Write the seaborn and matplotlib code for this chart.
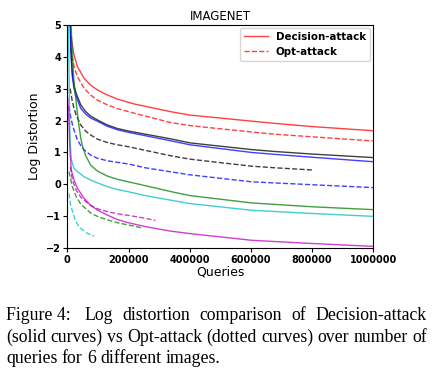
import numpy as np
import pandas as pd
import matplotlib
matplotlib.use("Agg")
import matplotlib.pyplot as plt
import seaborn as sns
from matplotlib.lines import Line2D

# values (queries vs log distortion)
red_dec_q = [13000, 16000, 22000, 33000, 55000, 76000, 98000, 131000, 164000, 200000, 218000, 336000, 401000, 603000, 679000, 801000, 1000000]
red_dec_d = [4.62, 4.40, 4.05, 3.69, 3.32, 3.11, 2.96, 2.80, 2.67, 2.57, 2.52, 2.28, 2.17, 1.98, 1.91, 1.81, 1.68]
red_opt_q = [12000, 16000, 22000, 33000, 55000, 76000, 98000, 131000, 164000, 200000, 218000, 336000, 401000, 603000, 679000, 801000, 1000000]
red_opt_d = [4.25, 3.98, 3.69, 3.37, 3.01, 2.80, 2.64, 2.49, 2.37, 2.28, 2.23, 1.94, 1.84, 1.64, 1.57, 1.49, 1.36]

blk_dec_q = [9000, 11000, 13500, 16500, 22000, 29000, 44000, 60000, 76000, 98000, 131000, 164000, 200000, 336000, 401000, 603000, 679000, 801000, 1000000]
blk_dec_d = [5.6, 4.52, 3.95, 3.48, 3.10, 2.85, 2.49, 2.28, 2.14, 2.02, 1.86, 1.75, 1.67, 1.43, 1.30, 1.09, 1.03, 0.95, 0.84]
blk_opt_q = [9000, 12000, 16500, 22000, 29000, 44000, 60000, 76000, 98000, 131000, 164000, 200000, 336000, 401000, 603000, 679000, 805000]
blk_opt_d = [3.0, 2.85, 2.59, 2.38, 2.17, 1.86, 1.67, 1.55, 1.42, 1.31, 1.24, 1.18, 0.90, 0.79, 0.57, 0.52, 0.45]

blu_dec_q = [8500, 11000, 13500, 16500, 22000, 29000, 44000, 60000, 76000, 98000, 131000, 164000, 200000, 336000, 401000, 603000, 679000, 801000, 1000000]
blu_dec_d = [5.6, 4.40, 3.85, 3.37, 3.00, 2.75, 2.38, 2.20, 2.08, 1.98, 1.82, 1.71, 1.63, 1.37, 1.24, 1.00, 0.94, 0.85, 0.71]
blu_opt_q = [5000, 11000, 16500, 22000, 33000, 44000, 55000, 76000, 98000, 131000, 164000, 200000, 255000, 341000, 401000, 603000, 801000, 1000000]
blu_opt_d = [2.45, 2.12, 1.88, 1.70, 1.39, 1.22, 1.08, 0.92, 0.82, 0.74, 0.69, 0.64, 0.52, 0.39, 0.30, 0.08, -0.01, -0.10]

grn_dec_q = [10000, 16000, 22000, 27000, 33000, 38500, 44000, 50000, 60000, 76000, 98000, 131000, 164000, 200000, 255000, 341000, 401000, 603000, 801000, 1000000]
grn_dec_d = [5.5, 4.2, 3.16, 2.75, 2.22, 1.81, 1.45, 1.18, 0.90, 0.61, 0.42, 0.26, 0.16, 0.08, -0.04, -0.23, -0.35, -0.58, -0.70, -0.79]
grn_opt_q = [5500, 16500, 29000, 44000, 76000, 98000, 131000, 164000, 200000, 244000]
grn_opt_d = [0.40, -0.07, -0.38, -0.62, -0.89, -1.00, -1.11, -1.20, -1.27, -1.36]

cyn_dec_q = [2500, 5000, 7000, 8700, 13000, 22000, 33000, 55000, 76000, 98000, 131000, 164000, 200000, 255000, 336000, 401000, 603000, 801000, 1000000]
cyn_dec_d = [5.2, 4.0, 2.6, 1.39, 0.78, 0.50, 0.40, 0.24, 0.14, 0.05, -0.07, -0.16, -0.23, -0.35, -0.49, -0.60, -0.81, -0.91, -1.00]
cyn_opt_q = [5500, 11000, 16500, 27500, 44000, 65000, 88000]
cyn_opt_d = [-0.28, -0.66, -0.82, -1.17, -1.38, -1.53, -1.62]

mag_dec_q = [1500, 5500, 8700, 13000, 22000, 33000, 55000, 76000, 98000, 131000, 164000, 200000, 255000, 336000, 401000, 603000, 801000, 1000000]
mag_dec_d = [2.7, 1.91, 1.08, 0.45, 0.14, -0.12, -0.44, -0.65, -0.80, -0.96, -1.10, -1.20, -1.32, -1.46, -1.54, -1.75, -1.85, -1.94]
mag_opt_q = [10000, 16500, 29000, 44000, 76000, 98000, 131000, 164000, 200000, 255000, 288000]
mag_opt_d = [0.55, 0.14, -0.18, -0.40, -0.66, -0.76, -0.85, -0.92, -0.97, -1.06, -1.13]

x_ticks = [0, 200000, 400000, 600000, 800000, 1000000]
y_ticks = [-2, -1, 0, 1, 2, 3, 4, 5]

caption = [
    ["Figure 4:", "Log", "distortion", "comparison", "of", "Decision-attack"],
    ["(solid", "curves)", "vs", "Opt-attack", "(dotted", "curves)", "over", "number", "of"],
    ["queries", "for", "6", "different", "images."],
]

curves = [
    ("r", red_dec_q, red_dec_d, red_opt_q, red_opt_d),
    ("k", blk_dec_q, blk_dec_d, blk_opt_q, blk_opt_d),
    ("b", blu_dec_q, blu_dec_d, blu_opt_q, blu_opt_d),
    ("g", grn_dec_q, grn_dec_d, grn_opt_q, grn_opt_d),
    ("c", cyn_dec_q, cyn_dec_d, cyn_opt_q, cyn_opt_d),
    ("m", mag_dec_q, mag_dec_d, mag_opt_q, mag_opt_d),
]

W, H = 440, 378
fig = plt.figure(figsize=(4.4, 3.78), dpi=100)
ax = fig.add_axes([67.3 / W, 1 - 248.3 / H, 306 / W, 223.6 / H])

for col, dq, dd, oq, od in curves:
    dec = pd.DataFrame({"Queries": dq, "dist": dd})
    opt = pd.DataFrame({"Queries": oq, "dist": od})
    sns.lineplot(data=dec, x="Queries", y="dist", ax=ax, color=col, lw=1, alpha=0.75)
    sns.lineplot(data=opt, x="Queries", y="dist", ax=ax, color=col, lw=1, alpha=0.75, linestyle="--")

ax.set_xlim(0, 1000000)
ax.set_ylim(-2, 5)
ax.set_xticks(x_ticks)
ax.set_xticklabels([str(t) for t in x_ticks])
ax.set_yticks(y_ticks)
ax.set_yticklabels([str(t).replace("-", "\u2212") for t in y_ticks])
for lab in ax.get_xticklabels() + ax.get_yticklabels():
    lab.set_fontweight("bold")
    lab.set_fontsize(7)
ax.tick_params(length=3, pad=1.5)
ax.set_xlabel("Queries", fontsize=9, labelpad=1)
ax.set_ylabel("Log Distortion", fontsize=9, labelpad=4)
ax.set_title("IMAGENET", fontsize=8.5, pad=3.5)

handles = [Line2D([], [], color="r", lw=1, alpha=0.75),
           Line2D([], [], color="r", lw=1, alpha=0.75, linestyle="--")]
ax.legend(handles, ["Decision-attack", "Opt-attack"], loc="upper right",
          prop={"weight": "bold", "size": 7.4}, borderaxespad=0.3, handlelength=2.3)

# caption below the chart, first two lines justified
renderer = fig.canvas.get_renderer()
x_left, x_right = 6, 427
baselines = [320, 341.5, 363]
fsize = 12.8
probe1 = fig.text(0, 0, "a a", family="Liberation Serif", fontsize=fsize)
probe2 = fig.text(0, 0, "aa", family="Liberation Serif", fontsize=fsize)
space = probe1.get_window_extent(renderer).width - probe2.get_window_extent(renderer).width
probe1.remove()
probe2.remove()
for i, words in enumerate(caption):
    texts = [fig.text(0, 1 - baselines[i] / H, w, family="Liberation Serif",
                      fontsize=fsize, va="baseline", ha="left") for w in words]
    widths = [t.get_window_extent(renderer).width for t in texts]
    extra = space if i == 0 else 0
    if i < 2:
        gap = (x_right - x_left - sum(widths) - extra) / (len(words) - 1)
    else:
        gap = space
    x = x_left
    for j, (t, wd) in enumerate(zip(texts, widths)):
        t.set_x(x / W)
        x += wd + gap + (extra if j == 0 else 0)

fig.savefig("out.png", dpi=100)
